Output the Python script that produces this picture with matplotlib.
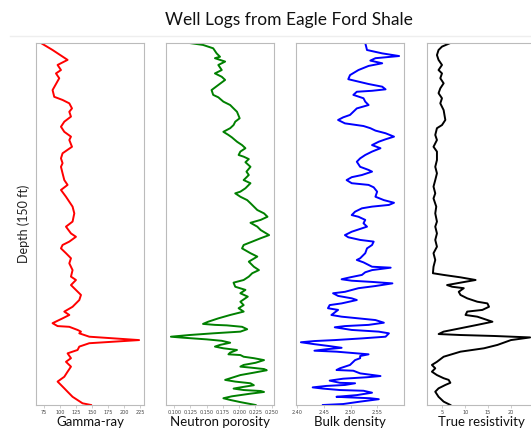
import matplotlib
matplotlib.use("Agg")
import matplotlib.pyplot as plt
from matplotlib.lines import Line2D

# gamma-ray (API) vs depth
gr_depth = [0.0, 2.9, 7.0, 9.1, 11.2, 12.6, 14.6, 19.5, 22.3, 23.6, 25.0, 27.1, 28.5, 30.5, 32.6,
            34.7, 36.8, 38.8, 40.2, 43.0, 45.7, 47.8, 49.8, 51.3, 54.0, 56.8, 58.8, 60.9, 63.7,
            67.8, 70.6, 74.0, 76.1, 78.9, 80.3, 82.3, 83.7, 85.1, 87.1, 89.2, 91.3, 94.1, 96.8,
            98.2, 100.3, 104.4, 106.5, 109.3, 111.3, 112.7, 114.1, 116.1, 117.3, 117.6, 118.9,
            119.6, 120.3, 121.0, 121.7, 123.1, 124.4, 125.8, 127.2, 128.6, 130.6, 132.1, 134.1,
            136.2, 138.3, 140.3, 141.7, 143.1, 144.5, 146.6, 149.3, 150.0]
gr = [69.8, 88.0, 111.4, 95.8, 101.1, 93.3, 98.4, 88.0, 90.6, 103.6, 114.1, 118.3, 114.1, 116.7,
      106.3, 101.1, 106.3, 116.7, 114.1, 118.3, 103.6, 101.1, 103.6, 101.1, 103.6, 106.3, 111.4,
      101.1, 108.9, 119.2, 121.9, 119.2, 108.9, 116.7, 124.5, 114.1, 103.6, 101.1, 108.9, 116.7,
      114.1, 119.2, 116.7, 124.5, 116.7, 132.3, 129.7, 119.2, 106.3, 114.1, 103.6, 88.0, 95.8,
      114.1, 127.0, 132.3, 129.7, 137.5, 145.3, 223.0, 145.3, 129.7, 127.0, 111.4, 116.7, 108.9,
      116.7, 111.4, 106.3, 95.8, 101.1, 106.3, 111.4, 119.2, 134.8, 148.0]

# neutron porosity vs depth
nphi_depth = [0.0, 0.8, 2.2, 4.3, 5.7, 6.3, 7.7, 9.1, 11.2, 12.6, 14.0, 15.3, 17.4, 19.5, 21.5,
              22.5, 24.3, 25.7, 27.1, 28.5, 31.2, 32.6, 34.0, 35.3, 36.8, 38.1, 39.1, 40.9, 42.3,
              43.6, 45.0, 46.4, 47.1, 48.1, 49.4, 51.3, 53.3, 54.7, 56.8, 58.1, 60.2, 61.6, 62.3,
              63.7, 65.1, 66.4, 69.2, 70.6, 72.0, 73.3, 74.5, 76.1, 77.5, 79.6, 80.9, 82.3, 83.7,
              85.1, 87.1, 88.5, 90.6, 92.7, 94.1, 95.4, 96.8, 98.2, 99.3, 101.0, 102.3, 103.7,
              105.1, 107.2, 108.6, 109.9, 111.3, 112.7, 114.1, 115.5, 116.4, 116.8, 117.0, 117.6,
              118.6, 119.6, 120.3, 121.0, 121.7, 122.1, 122.8, 123.4, 124.2, 125.1, 125.8, 126.5,
              127.2, 128.3, 129.0, 129.3, 130.0, 130.6, 131.4, 132.5, 133.4, 134.1, 134.5, 135.1,
              135.6, 136.6, 137.6, 139.6, 140.3, 141.0, 141.8, 142.7, 143.2, 143.8, 144.2, 144.6,
              145.3, 145.9, 146.4, 147.2, 147.9, 148.8, 150.0]
nphi = [0.1235, 0.1443, 0.1600, 0.1653, 0.1705, 0.1627, 0.1784, 0.1679, 0.1732, 0.1627, 0.1732,
        0.1784, 0.1679, 0.1575, 0.1600, 0.1679, 0.1757, 0.1862, 0.1914, 0.1967, 0.2008, 0.1940,
        0.1914, 0.1862, 0.1757, 0.1835, 0.1888, 0.1967, 0.2045, 0.2097, 0.2019, 0.1992, 0.2070,
        0.2149, 0.2097, 0.2175, 0.2113, 0.2149, 0.2070, 0.2175, 0.2097, 0.2019, 0.1940, 0.2019,
        0.2124, 0.2175, 0.2280, 0.2384, 0.2437, 0.2332, 0.2175, 0.2280, 0.2332, 0.2462, 0.2332,
        0.2202, 0.2070, 0.2045, 0.2175, 0.2280, 0.2149, 0.2227, 0.2305, 0.2202, 0.2149, 0.2070,
        0.1914, 0.1940, 0.2097, 0.2019, 0.2133, 0.2019, 0.2070, 0.1992, 0.2070, 0.1862, 0.1679,
        0.1522, 0.1443, 0.1627, 0.1810, 0.2045, 0.2124, 0.2019, 0.1600, 0.1235, 0.0948, 0.1130,
        0.1497, 0.1732, 0.1862, 0.1705, 0.1627, 0.1757, 0.1967, 0.1862, 0.1835, 0.2019, 0.2070,
        0.2227, 0.2384, 0.2254, 0.2070, 0.2019, 0.2175, 0.2384, 0.2426, 0.2227, 0.2019, 0.1784,
        0.1940, 0.2175, 0.2227, 0.2019, 0.1914, 0.2070, 0.2332, 0.2384, 0.2175, 0.2019, 0.1888,
        0.1757, 0.1862, 0.2019, 0.2254]

# bulk density (g/cc) vs depth
rhob_depth = [0.0, 2.9, 4.3, 5.4, 6.3, 7.3, 8.4, 9.5, 11.2, 13.3, 15.0, 16.0, 17.0, 18.1, 19.2,
              19.8, 20.2, 21.5, 22.9, 24.3, 25.7, 27.1, 28.5, 29.8, 30.8, 31.9, 33.3, 34.4, 35.3,
              36.3, 37.4, 38.8, 39.9, 40.9, 42.3, 43.6, 45.0, 46.4, 47.8, 49.2, 51.3, 52.6, 53.3,
              54.7, 55.6, 56.8, 58.1, 58.8, 59.8, 61.6, 63.7, 65.1, 66.2, 67.1, 67.8, 68.5, 69.9,
              71.3, 72.0, 73.3, 74.7, 76.1, 78.2, 79.6, 80.5, 81.6, 82.3, 83.7, 85.1, 87.1, 89.2,
              89.9, 90.9, 92.7, 93.1, 94.1, 95.0, 96.1, 97.1, 97.9, 98.5, 99.0, 99.6, 100.7, 101.6,
              103.1, 103.7, 104.8, 105.8, 106.5, 107.9, 108.6, 109.9, 110.6, 112.7, 113.4, 114.1,
              114.8, 115.9, 116.8, 117.3, 117.8, 118.9, 119.6, 120.3, 121.7, 122.4, 123.1, 123.5,
              124.0, 124.7, 125.6, 126.3, 126.9, 127.5, 127.9, 128.6, 129.0, 129.7, 130.6, 131.4,
              133.4, 134.8, 135.5, 135.8, 136.9, 138.0, 138.5, 139.1, 139.9, 140.8, 141.0, 141.7,
              142.1, 142.7, 143.2, 143.8, 144.1, 144.9, 145.9, 146.6, 146.8, 147.2, 147.6, 148.6,
              149.6, 150.0]
rhob = [2.5278, 2.5311, 2.5598, 2.5916, 2.5470, 2.5374, 2.5598, 2.5341, 2.5150, 2.4991, 2.4958,
        2.5150, 2.5341, 2.5598, 2.5661, 2.5406, 2.5119, 2.5054, 2.5245, 2.5278, 2.5341, 2.5119,
        2.5054, 2.4991, 2.4862, 2.4766, 2.4895, 2.5245, 2.5374, 2.5470, 2.5661, 2.5820, 2.5661,
        2.5533, 2.5406, 2.5565, 2.5406, 2.5278, 2.5182, 2.5119, 2.5182, 2.5341, 2.5406, 2.5215,
        2.5023, 2.4927, 2.5023, 2.5341, 2.5437, 2.5502, 2.5470, 2.5629, 2.5820, 2.5724, 2.5406,
        2.5215, 2.5086, 2.5023, 2.5150, 2.5278, 2.5245, 2.5311, 2.5023, 2.4895, 2.4958, 2.5182,
        2.5437, 2.5406, 2.5311, 2.5278, 2.5182, 2.5119, 2.5245, 2.5406, 2.5757, 2.5406, 2.5278,
        2.5215, 2.4991, 2.4832, 2.5023, 2.5406, 2.5790, 2.5470, 2.5150, 2.4895, 2.4671, 2.4766,
        2.5023, 2.5119, 2.4832, 2.4607, 2.4575, 2.4766, 2.4640, 2.4832, 2.5150, 2.5470, 2.5629,
        2.5341, 2.4895, 2.4703, 2.5023, 2.5533, 2.5724, 2.5661, 2.5215, 2.4703, 2.4320, 2.4065,
        2.4287, 2.4607, 2.4832, 2.4544, 2.4320, 2.4736, 2.5119, 2.5341, 2.5182, 2.5182, 2.5086,
        2.4991, 2.4799, 2.4736, 2.5054, 2.5182, 2.5565, 2.5311, 2.4862, 2.4607, 2.4799, 2.5086,
        2.4895, 2.4544, 2.4287, 2.4479, 2.4799, 2.5245, 2.5406, 2.5119, 2.4736, 2.4927, 2.5374,
        2.5533, 2.5182, 2.4862, 2.4479]

# true resistivity (ohm.m) vs depth
rt_depth = [0.0, 1.5, 2.9, 5.0, 7.0, 9.1, 11.2, 12.6, 14.6, 16.7, 18.8, 20.8, 22.9, 25.0, 27.8,
            31.9, 34.0, 35.3, 38.1, 40.2, 43.0, 45.0, 48.5, 51.3, 54.0, 56.8, 59.5, 62.3, 64.4,
            67.8, 70.6, 74.0, 76.1, 78.9, 81.6, 84.4, 87.1, 89.9, 92.7, 95.4, 96.1, 97.1, 98.2,
            99.3, 100.3, 101.0, 101.6, 103.1, 104.4, 105.8, 107.2, 107.9, 109.3, 110.6, 111.3,
            112.7, 113.4, 114.1, 115.5, 116.8, 118.2, 119.6, 120.6, 121.0, 121.4, 122.0, 123.1,
            125.1, 126.5, 127.9, 130.0, 132.1, 133.4, 134.8, 136.2, 137.6, 138.9, 139.6, 140.8,
            141.7, 143.1, 144.5, 146.6, 148.6, 150.0]
rt = [6.76, 4.93, 4.18, 3.83, 4.18, 4.93, 4.18, 4.93, 4.56, 5.29, 4.56, 4.18, 4.93, 4.56, 5.29,
      5.66, 4.93, 3.83, 3.46, 3.83, 3.08, 3.83, 3.83, 3.46, 3.83, 3.46, 3.08, 3.46, 3.08, 3.68,
      3.46, 3.83, 3.46, 3.83, 3.46, 3.83, 3.08, 3.46, 3.08, 2.95, 5.29, 8.97, 12.27, 8.97, 6.04,
      7.14, 9.69, 8.59, 8.97, 10.44, 12.64, 14.85, 15.20, 13.75, 10.44, 10.07, 12.64, 13.75,
      15.95, 12.64, 8.97, 5.29, 4.20, 8.97, 16.30, 24.17, 19.98, 17.05, 14.10, 8.97, 5.29, 3.83,
      2.73, 3.46, 2.73, 3.83, 5.29, 6.39, 6.76, 5.66, 4.18, 3.46, 4.18, 5.29, 6.76]

logs = [
    (gr_depth, gr, 'red', 'Gamma-ray', [75, 100, 125, 150, 175, 200, 225], '{:g}'),
    (nphi_depth, nphi, 'green', 'Neutron porosity',
     [0.100, 0.125, 0.150, 0.175, 0.200, 0.225, 0.250], '{:.3f}'),
    (rhob_depth, rhob, 'blue', 'Bulk density', [2.40, 2.45, 2.50, 2.55], '{:.2f}'),
    (rt_depth, rt, 'black', 'True resistivity', [5, 10, 15, 20], '{:g}'),
]

W, H = 531, 428
fig = plt.figure(figsize=(W / 100, H / 100), dpi=100)

lefts = [36, 166, 296, 427]
top, bottom, width = 43, 405, 108

for left, (depth, vals, color, label, ticks, fmt) in zip(lefts, logs):
    ax = fig.add_axes([left / W, 1 - bottom / H, width / W, (bottom - top) / H])
    ax.plot(vals, depth, color=color, lw=1.4, solid_joinstyle='round')
    ax.set_ylim(max(depth), min(depth))
    ax.set_yticks([])
    ax.set_xticks(ticks)
    ax.set_xticklabels([fmt.format(t) for t in ticks])
    ax.tick_params(axis='x', labelsize=3.5, length=2, width=0.5, pad=1.5,
                   color='#bbbbbb', labelcolor='#444444')
    for sp in ax.spines.values():
        sp.set_color('#bbbbbb')
        sp.set_linewidth(0.8)
    ax.set_xlabel(label, fontsize=9.5, family='Lato', color='#111111')
    ax.xaxis.set_label_coords(0.5, -0.03)
    ax.xaxis.label.set_va('top')

fig.text(289 / W, 1 - 20 / H, 'Well Logs from Eagle Ford Shale', ha='center', va='center',
         fontsize=12.5, family='Lato', color='#111111')
fig.text(24 / W, 1 - 224 / H, 'Depth (150 ft)', rotation=90, ha='center', va='center',
         fontsize=9, family='Lato', color='#222222')
fig.add_artist(Line2D([10 / W, 1], [1 - 36 / H, 1 - 36 / H], color='#eeeeee', lw=1))

fig.savefig('out.png', dpi=100)
